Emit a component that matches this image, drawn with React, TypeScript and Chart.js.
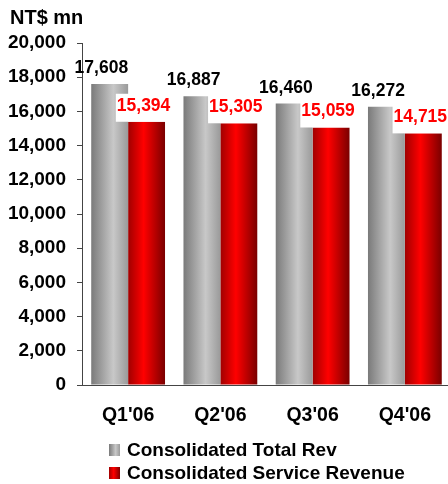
import React, { useEffect, useRef } from "react";
import { Chart, registerables } from "chart.js";

Chart.register(...registerables);

const categories = ["Q1'06", "Q2'06", "Q3'06", "Q4'06"];
const totalRev = [17608, 16887, 16460, 16272];
const serviceRev = [15394, 15305, 15059, 14715];
const seriesNames = ["Consolidated Total Rev", "Consolidated Service Revenue"];
const unitTitle = "NT$ mn";

const FONT = "'Liberation Sans', Arial, Helvetica, sans-serif";

const grayStops: [number, string][] = [
  [0, "#7a7a7a"],
  [0.6, "#c8c8c8"],
  [1, "#9a9a9a"],
];
const redStops: [number, string][] = [
  [0, "#a00000"],
  [0.42, "#ff0000"],
  [1, "#7a0000"],
];

function makeGrad(ctx: CanvasRenderingContext2D, x0: number, x1: number, stops: [number, string][]) {
  const g = ctx.createLinearGradient(x0, 0, x1, 0);
  stops.forEach(([o, c]) => g.addColorStop(o, c));
  return g;
}

const gradientPlugin = {
  id: "barGradients",
  beforeDatasetsDraw(chart: any) {
    const ctx = chart.ctx;
    chart.data.datasets.forEach((_d: any, di: number) => {
      const meta = chart.getDatasetMeta(di);
      const stops = di === 0 ? grayStops : redStops;
      meta.data.forEach((bar: any) => {
        const l = bar.x - bar.width / 2;
        const r = bar.x + bar.width / 2;
        bar.options.backgroundColor = makeGrad(ctx, l, r, stops);
      });
    });
  },
};

const labelsPlugin = {
  id: "valueLabels",
  afterDatasetsDraw(chart: any) {
    const ctx = chart.ctx;
    ctx.save();
    ctx.font = `bold 17.5px ${FONT}`;
    ctx.textBaseline = "alphabetic";
    const m0 = chart.getDatasetMeta(0);
    m0.data.forEach((bar: any, i: number) => {
      const txt = totalRev[i].toLocaleString("en-US");
      ctx.fillStyle = "#000000";
      ctx.textAlign = "right";
      ctx.fillText(txt, bar.x + bar.width / 2, bar.y - 11);
    });
    const m1 = chart.getDatasetMeta(1);
    m1.data.forEach((bar: any, i: number) => {
      const txt = serviceRev[i].toLocaleString("en-US");
      const w = ctx.measureText(txt).width;
      const cx = bar.x - 3;
      ctx.fillStyle = "#ffffff";
      ctx.fillRect(cx - w / 2 - 1, bar.y - 28, w + 2, 28);
      ctx.fillStyle = "#ff0000";
      ctx.textAlign = "center";
      ctx.fillText(txt, cx, bar.y - 11);
    });
    ctx.restore();
  },
  afterDraw(chart: any) {
    const ctx = chart.ctx;
    ctx.save();
    ctx.fillStyle = "#000000";
    ctx.font = `bold 20px ${FONT}`;
    ctx.textAlign = "left";
    ctx.textBaseline = "middle";
    ctx.fillText(unitTitle, 10, 18);

    // legend
    ctx.font = `bold 19px ${FONT}`;
    const rows = [450, 473];
    seriesNames.forEach((name, i) => {
      const y = rows[i];
      const stops = i === 0 ? grayStops : redStops;
      ctx.fillStyle = makeGrad(ctx, 109, 120, stops);
      ctx.fillRect(109, y - 6, 11, 12);
      ctx.fillStyle = "#000000";
      ctx.fillText(name, 127, y + 1);
    });
    ctx.restore();
  },
};

export default function App() {
  const ref = useRef<HTMLCanvasElement | null>(null);
  useEffect(() => {
    if (!ref.current) return;
    const chart = new Chart(ref.current, {
      type: "bar",
      data: {
        labels: categories,
        datasets: [
          {
            label: seriesNames[0],
            data: totalRev,
            backgroundColor: () => "#aaaaaa",
            borderWidth: 0,
            categoryPercentage: 0.8,
            barPercentage: 1,
          },
          {
            label: seriesNames[1],
            data: serviceRev,
            backgroundColor: () => "#ff0000",
            borderWidth: 0,
            categoryPercentage: 0.8,
            barPercentage: 1,
          },
        ],
      },
      options: {
        animation: false,
        responsive: true,
        maintainAspectRatio: false,
        layout: { padding: { top: 43, left: 0, right: 0, bottom: 0 } },
        plugins: {
          legend: { display: false },
          tooltip: { enabled: false },
          title: { display: false },
        },
        scales: {
          x: {
            grid: { display: false, drawTicks: false },
            border: { display: true, color: "#444444", width: 1 },
            ticks: {
              color: "#000000",
              font: { family: FONT, size: 19.5, weight: "bold" },
              padding: 19,
              maxRotation: 0,
            },
            afterFit: (s: any) => {
              s.height = 99;
            },
          },
          y: {
            min: 0,
            max: 20000,
            border: { display: true, color: "#444444", width: 1 },
            grid: {
              drawOnChartArea: false,
              drawTicks: true,
              tickLength: 5,
              color: "#444444",
            },
            ticks: {
              stepSize: 2000,
              color: "#000000",
              font: { family: FONT, size: 19, weight: "bold" },
              padding: 11,
            },
            afterFit: (s: any) => {
              s.width = 82;
            },
          },
        },
      },
      plugins: [gradientPlugin, labelsPlugin],
    });
    return () => chart.destroy();
  }, []);

  return (
    <div
      style={{
        position: "absolute",
        left: 0,
        top: 0,
        width: 448,
        height: 484,
        overflow: "hidden",
        background: "#ffffff",
      }}
    >
      <div style={{ position: "relative", width: 451, height: 484 }}>
        <canvas ref={ref} />
      </div>
    </div>
  );
}
